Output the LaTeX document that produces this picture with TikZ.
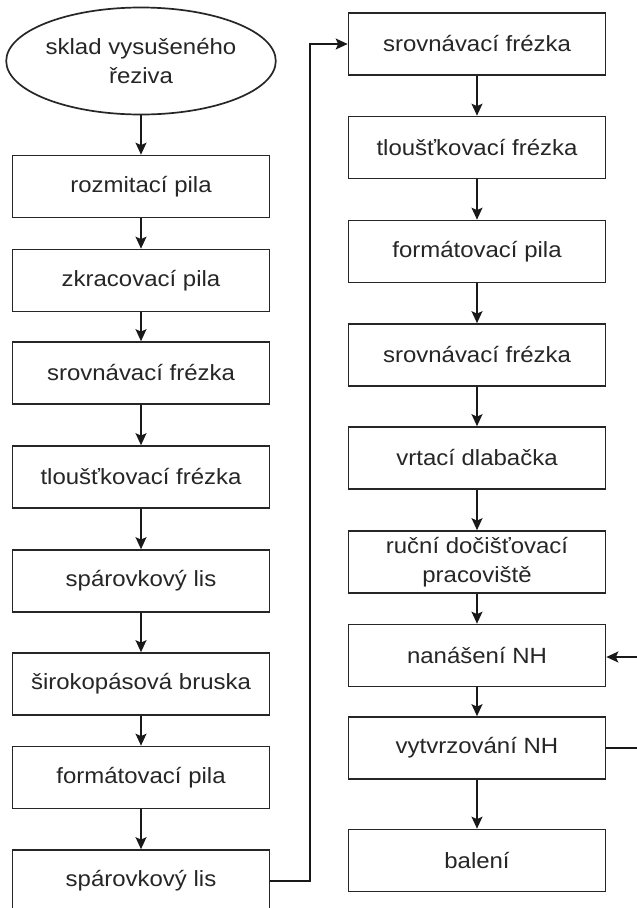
\documentclass[tikz,border=0pt]{standalone}
\usepackage{fontspec}
\setmainfont[FakeStretch=1.09]{Liberation Sans}
\usetikzlibrary{shapes.geometric,arrows.meta}
\tikzset{
  box/.style={draw=black!85,line width=1.7pt,minimum width=257pt,minimum height=62pt,inner sep=0pt,align=center,
    font=\fontsize{22}{29}\selectfont,text=black!85},
  store/.style={box,ellipse,minimum width=259pt,minimum height=107pt},
  arr/.style={draw=black!90,line width=1.6pt,-{Stealth[length=12pt,width=11pt,inset=2.5pt]}},
  ln/.style={draw=black!90,line width=1.6pt}
}
\begin{document}
\begin{tikzpicture}[x=1pt,y=-1pt]
    \useasboundingbox (0,0) rectangle (637,908);
    \fill[white] (0,0) rectangle (637,908);
    %% left column
    \node[store](l0)at(141,61){sklad vysušeného\\řeziva};
    \node[box](l1)at(141,186.5){rozmitací pila};
    \node[box](l2)at(141,280.5){zkracovací pila};
    \node[box](l3)at(141,373){srovnávací frézka};
    \node[box](l4)at(141,477){tloušťkovací frézka};
    \node[box](l5)at(141,581){spárovkový lis};
    \node[box](l6)at(141,684){širokopásová bruska};
    \node[box](l7)at(141,777.5){formátovací pila};
    \node[box](l8)at(141,881){spárovkový lis};
    %% right column
    \node[box](r1)at(477,44){srovnávací frézka};
    \node[box](r2)at(477,147.5){tloušťkovací frézka};
    \node[box](r3)at(477,251.5){formátovací pila};
    \node[box](r4)at(477,355){srovnávací frézka};
    \node[box](r5)at(477,458){vrtací dlabačka};
    \node[box](r6)at(477,562){ruční dočišťovací\\pracoviště};
    \node[box](r7)at(477,655.5){nanášení NH};
    \node[box](r8)at(477,748){vytvrzování NH};
    \node[box](r9)at(477,860.5){balení};

    \foreach \a/\b in {l0/l1,l1/l2,l2/l3,l3/l4,l4/l5,l5/l6,l6/l7,l7/l8,
                       r1/r2,r2/r3,r3/r4,r4/r5,r5/r6,r6/r7,r7/r8,r8/r9}
        \draw[arr](\a.south)--(\b.north);

    \coordinate(jog)at(310,0);
    \draw[arr](l8.east)--(l8.east-|jog)|-(r1.west);

    %% return loop, runs off the right edge
    \coordinate(fbout)at(640,748);
    \coordinate(fbin)at(640,657);
    \draw[ln](r8.east)--(fbout);
    \draw[arr](fbin)--(r7.east|-fbin);
\end{tikzpicture}
\end{document}
